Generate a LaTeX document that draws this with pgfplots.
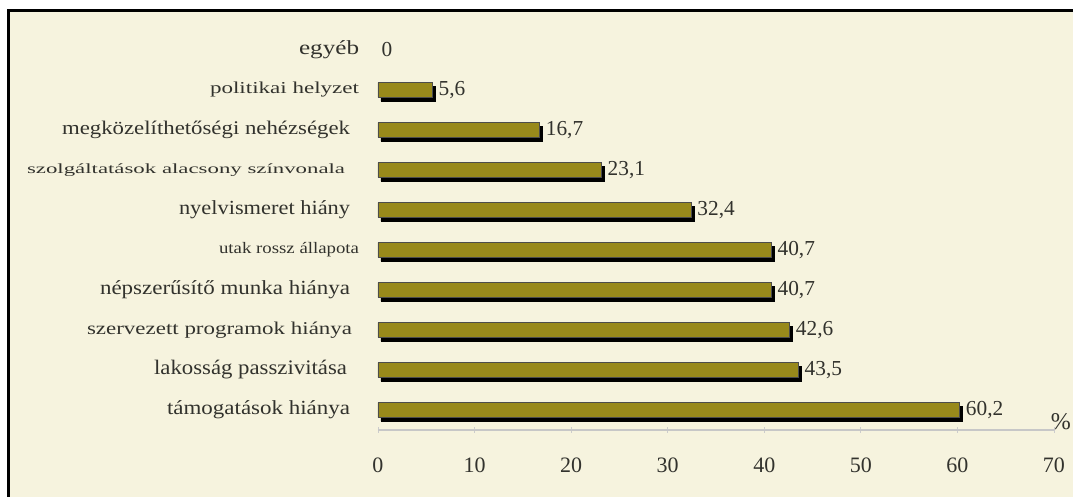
\documentclass[border=0pt]{standalone}
\usepackage{fontspec}
\setmainfont{Liberation Serif}
\usepackage{graphicx}
\usepackage{pgfplots}
\pgfplotsset{compat=1.18}
\definecolor{cream}{RGB}{246,243,222}
\definecolor{barolive}{RGB}{152,137,27}
\definecolor{txt}{RGB}{50,50,45}
\newcommand{\lab}[4]{\resizebox{#1pt}{\height}{\fontsize{#2}{#2}\selectfont #3}\hspace*{#4pt}}
\begin{document}
\begin{tikzpicture}
\path[use as bounding box] (-283.5pt,-49.5pt) rectangle (521.25pt,322.5pt);
\clip (-283.5pt,-49.5pt) rectangle (521.25pt,322.5pt);
\fill[white] (-283.5pt,-49.5pt) rectangle (521.25pt,322.5pt);
\fill[cream] (-277.1pt,-60pt) rectangle (530pt,314.6pt);
\draw[line width=2.25pt] (-277.1pt,-60pt) -- (-277.1pt,314.6pt) -- (530pt,314.6pt);
\begin{axis}[
  at={(0,0)}, anchor=south west,
  scale only axis, width=507pt, height=300pt,
  xmin=0, xmax=70, ymin=-0.5, ymax=9.5,
  clip=false,
  axis x line*=bottom,
  axis y line*=left,
  y axis line style={draw=none},
  x axis line style={draw=black!22, line width=0.8pt},
  xtick={0,10,...,70},
  xtick style={draw=black!20, line width=0.6pt},
  major tick length=4pt,
  tick align=center,
  ytick={0,...,9},
  ytick style={draw=none},
  /pgf/number format/assume math mode=true,
  xticklabel style={font=\fontsize{16.5}{16.5}\selectfont, text=txt, inner sep=0pt, yshift=-19pt},
  yticklabel style={text=txt, inner sep=0pt, anchor=east, xshift=-12pt},
  yticklabels={
    {\lab{137.25}{15}{támogatások hiánya}{6.75}},
    {\lab{144.75}{15.5}{lakosság passzivitása}{9}},
    {\lab{198.75}{13.5}{szervezett programok hiánya}{5.25}},
    {\lab{187.5}{15}{népszerűsítő munka hiánya}{6.75}},
    {\lab{105}{12}{utak rossz állapota}{0}},
    {\lab{128.25}{15}{nyelvismeret hiány}{6.75}},
    {\lab{238.5}{10.5}{szolgáltatások alacsony színvonala}{10.5}},
    {\lab{216}{14.5}{megközelíthetőségi nehézségek}{6.75}},
    {\lab{111.75}{12.5}{politikai helyzet}{0}},
    {\lab{45}{15}{egyéb}{0}}
  },
  every node near coord/.append style={anchor=west, inner sep=0pt, xshift=2.5pt,
     font=\fontsize{16}{16}\selectfont, text=txt},
]
% shadow
\addplot[xbar, bar width=11pt, fill=black, draw=black, line width=0.3pt, xshift=2.2pt, yshift=-2.8pt]
  coordinates {(60.2,0) (43.5,1) (42.6,2) (40.7,3) (40.7,4) (32.4,5) (23.1,6) (16.7,7) (5.6,8)};
% bars
\addplot[xbar, bar width=11pt, fill=barolive, draw=black!70, line width=0.5pt,
  nodes near coords, point meta=explicit symbolic, every node near coord/.append style={xshift=2.2pt}]
  coordinates {(60.2,0)[60,2] (43.5,1)[43,5] (42.6,2)[42,6] (40.7,3)[40,7] (40.7,4)[40,7]
               (32.4,5)[32,4] (23.1,6)[23,1] (16.7,7)[16,7] (5.6,8)[5,6]};
% zero category
\addplot[xbar, bar width=11pt, draw=none, fill=none,
  nodes near coords, point meta=explicit symbolic]
  coordinates {(0,9)[0]};
\node[anchor=south west, inner sep=0pt, text=txt, font=\fontsize{18}{18}\selectfont] at (axis cs:69.65,-0.5) {\%};
\end{axis}
\end{tikzpicture}
\end{document}
